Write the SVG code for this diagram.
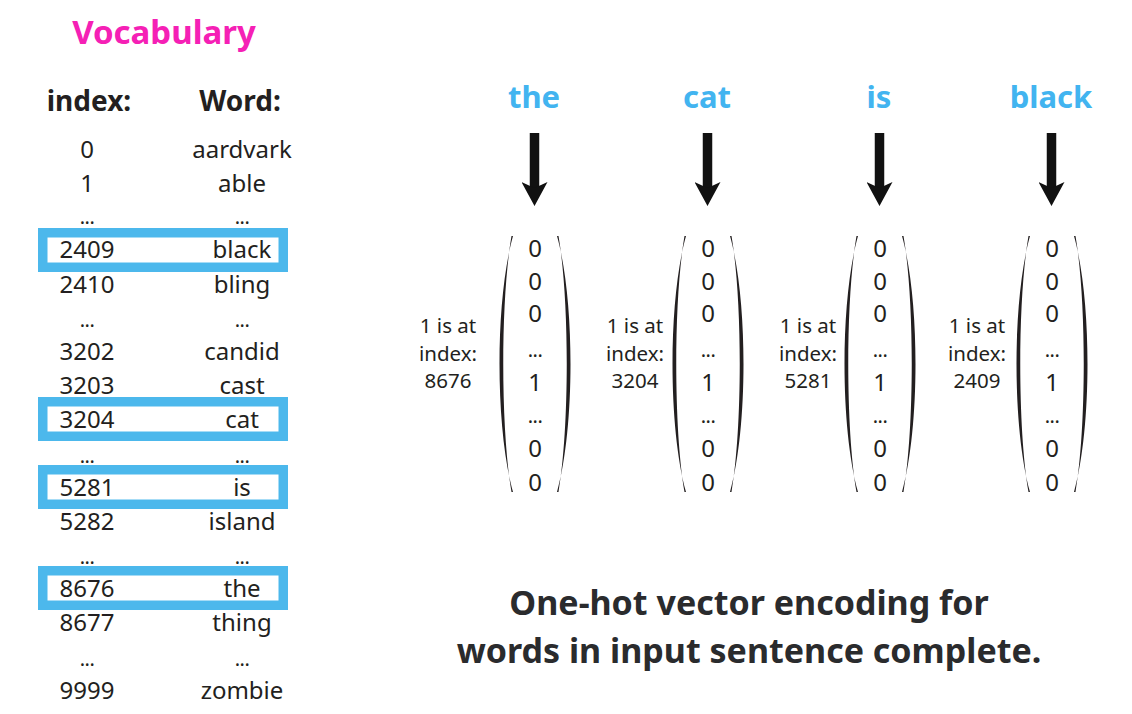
<svg xmlns="http://www.w3.org/2000/svg" xmlns:xlink="http://www.w3.org/1999/xlink" width="1132" height="714" viewBox="0 0 1132 714">
<style>
  text { font-family: "Noto Sans", "Open Sans", sans-serif; fill: #231f20; }
  .title { font-size: 33px; font-weight: 700; fill: #f520b5; text-anchor: middle; }
  .head { font-size: 28px; font-weight: 700; text-anchor: middle; }
  .row { font-size: 24px; text-anchor: middle; }
  .dots { font-size: 20px; text-anchor: middle; letter-spacing: -0.5px; }
  .hl { fill: none; stroke: #4cb8ec; stroke-width: 9.5; }
  .word { font-size: 31px; font-weight: 700; fill: #42b4f0; text-anchor: middle; }
  .lbl { font-size: 20.5px; text-anchor: middle; }
  .val { font-size: 24px; text-anchor: middle; }
  .paren { fill: #231f20; }
  .arrow { stroke: #111; stroke-width: 9.5; marker-end: url(#head); }
  .caption { font-size: 34px; font-weight: 700; fill: #2a2b2d; text-anchor: middle; }
</style>
<defs>
  <marker id="head" viewBox="0 -13 24 26" refX="6" refY="0" markerWidth="24" markerHeight="26" markerUnits="userSpaceOnUse" orient="auto">
    <path d="M0,-13 L24,0 L0,13 L6,0 Z" fill="#111"/>
  </marker>
  <path id="lp" d="M-22,236 C-40,300 -40,428 -22,492 L-23.5,492 C-34.5,428 -34.5,300 -23.5,236 Z"/>
  <path id="rp" d="M22,236 C40,300 40,428 22,492 L23.5,492 C34.5,428 34.5,300 23.5,236 Z"/>
</defs>

<g id="vocabulary">
  <text class="title" x="164" y="44">Vocabulary</text>
  <text class="head" x="89" y="111">index:</text>
  <text class="head" x="240" y="111">Word:</text>
</g>

<g id="highlights">
  <rect class="hl" x="42.75" y="232.75" width="240.5" height="34.5"/>
  <rect class="hl" x="42.75" y="401.75" width="240.5" height="34.5"/>
  <rect class="hl" x="42.75" y="469.75" width="240.5" height="34.5"/>
  <rect class="hl" x="42.75" y="570.75" width="240.5" height="34.5"/>
</g>

<g id="vocab-rows">
  <text class="row" x="87" y="158">0</text><text class="row" x="242" y="158">aardvark</text>
  <text class="row" x="87" y="192">1</text><text class="row" x="242" y="192">able</text>
  <text class="dots" x="87" y="224">...</text><text class="dots" x="242" y="224">...</text>
  <text class="row" x="87" y="258">2409</text><text class="row" x="242" y="258">black</text>
  <text class="row" x="87" y="293">2410</text><text class="row" x="242" y="293">bling</text>
  <text class="dots" x="87" y="327">...</text><text class="dots" x="242" y="327">...</text>
  <text class="row" x="87" y="360">3202</text><text class="row" x="242" y="360">candid</text>
  <text class="row" x="87" y="394">3203</text><text class="row" x="242" y="394">cast</text>
  <text class="row" x="87" y="428">3204</text><text class="row" x="242" y="428">cat</text>
  <text class="dots" x="87" y="463">...</text><text class="dots" x="242" y="463">...</text>
  <text class="row" x="87" y="496">5281</text><text class="row" x="242" y="496">is</text>
  <text class="row" x="87" y="530">5282</text><text class="row" x="242" y="530">island</text>
  <text class="dots" x="87" y="564">...</text><text class="dots" x="242" y="564">...</text>
  <text class="row" x="87" y="597">8676</text><text class="row" x="242" y="597">the</text>
  <text class="row" x="87" y="631">8677</text><text class="row" x="242" y="631">thing</text>
  <text class="dots" x="87" y="666">...</text><text class="dots" x="242" y="666">...</text>
  <text class="row" x="87" y="699">9999</text><text class="row" x="242" y="699">zombie</text>
</g>

<g id="word-the"><text class="word" x="534" y="108">the</text></g>
<g id="word-cat"><text class="word" x="707" y="108">cat</text></g>
<g id="word-is"><text class="word" x="879" y="108">is</text></g>
<g id="word-black"><text class="word" x="1051" y="108">black</text></g>

<g id="connectors">
  <line class="arrow" x1="534.5" y1="133" x2="534.5" y2="188"/>
  <line class="arrow" x1="707.5" y1="133" x2="707.5" y2="188"/>
  <line class="arrow" x1="879.5" y1="133" x2="879.5" y2="188"/>
  <line class="arrow" x1="1051.5" y1="133" x2="1051.5" y2="188"/>
</g>

<g id="vector-the">
  <text class="lbl" x="448" y="333">1 is at</text>
  <text class="lbl" x="448" y="361">index:</text>
  <text class="lbl" x="448" y="388">8676</text>
  <use xlink:href="#lp" class="paren" x="535"/>
  <use xlink:href="#rp" class="paren" x="535"/>
  <text class="val" x="535" y="257">0</text>
  <text class="val" x="535" y="290">0</text>
  <text class="val" x="535" y="322">0</text>
  <text class="dots" x="535" y="357">...</text>
  <text class="val" x="535" y="391">1</text>
  <text class="dots" x="535" y="423">...</text>
  <text class="val" x="535" y="457">0</text>
  <text class="val" x="535" y="491">0</text>
</g>

<g id="vector-cat">
  <text class="lbl" x="635" y="333">1 is at</text>
  <text class="lbl" x="635" y="361">index:</text>
  <text class="lbl" x="635" y="388">3204</text>
  <use xlink:href="#lp" class="paren" x="708"/>
  <use xlink:href="#rp" class="paren" x="708"/>
  <text class="val" x="708" y="257">0</text>
  <text class="val" x="708" y="290">0</text>
  <text class="val" x="708" y="322">0</text>
  <text class="dots" x="708" y="357">...</text>
  <text class="val" x="708" y="391">1</text>
  <text class="dots" x="708" y="423">...</text>
  <text class="val" x="708" y="457">0</text>
  <text class="val" x="708" y="491">0</text>
</g>

<g id="vector-is">
  <text class="lbl" x="808" y="333">1 is at</text>
  <text class="lbl" x="808" y="361">index:</text>
  <text class="lbl" x="808" y="388">5281</text>
  <use xlink:href="#lp" class="paren" x="880"/>
  <use xlink:href="#rp" class="paren" x="880"/>
  <text class="val" x="880" y="257">0</text>
  <text class="val" x="880" y="290">0</text>
  <text class="val" x="880" y="322">0</text>
  <text class="dots" x="880" y="357">...</text>
  <text class="val" x="880" y="391">1</text>
  <text class="dots" x="880" y="423">...</text>
  <text class="val" x="880" y="457">0</text>
  <text class="val" x="880" y="491">0</text>
</g>

<g id="vector-black">
  <text class="lbl" x="977" y="333">1 is at</text>
  <text class="lbl" x="977" y="361">index:</text>
  <text class="lbl" x="977" y="388">2409</text>
  <use xlink:href="#lp" class="paren" x="1052"/>
  <use xlink:href="#rp" class="paren" x="1052"/>
  <text class="val" x="1052" y="257">0</text>
  <text class="val" x="1052" y="290">0</text>
  <text class="val" x="1052" y="322">0</text>
  <text class="dots" x="1052" y="357">...</text>
  <text class="val" x="1052" y="391">1</text>
  <text class="dots" x="1052" y="423">...</text>
  <text class="val" x="1052" y="457">0</text>
  <text class="val" x="1052" y="491">0</text>
</g>

<g id="caption">
  <text class="caption" x="749" y="615">One-hot vector encoding for</text>
  <text class="caption" x="749" y="663">words in input sentence complete.</text>
</g>
</svg>
